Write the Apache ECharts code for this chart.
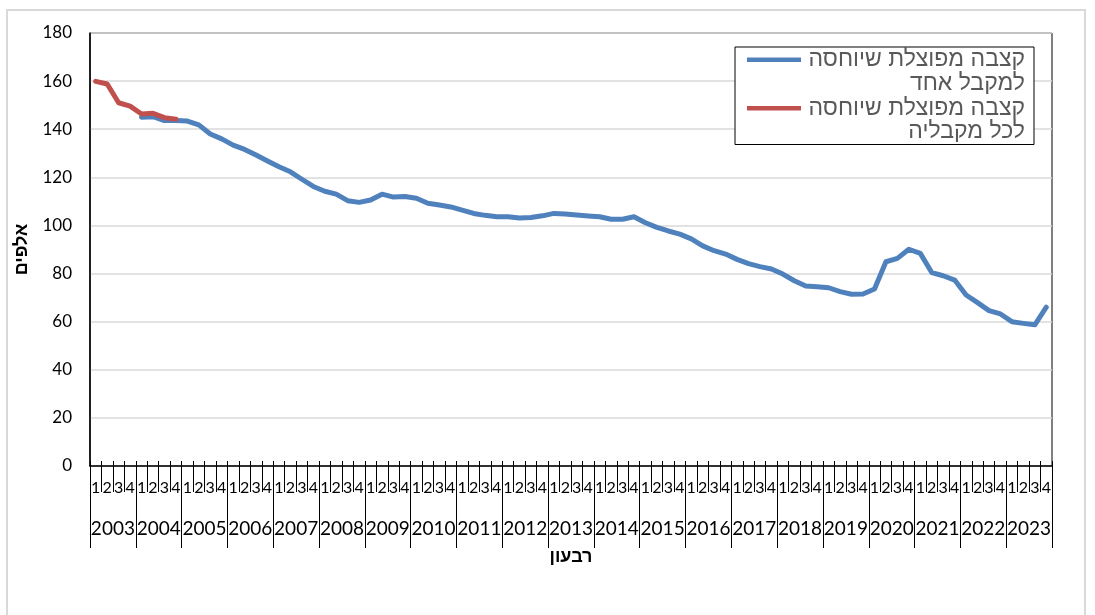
<!DOCTYPE html>
<html lang="he">
<head>
  <meta charset="utf-8">
</head>
<body style="margin: 0; background: #fff">
  <div id="container" style="width: 1095px; height: 615px"></div>
  <script src="https://cdn.jsdelivr.net/npm/echarts@6.0.0/dist/echarts.min.js"></script>
  <script>
    // data
    var years = ['2003', '2004', '2005', '2006', '2007', '2008', '2009', '2010', '2011', '2012', '2013',
      '2014', '2015', '2016', '2017', '2018', '2019', '2020', '2021', '2022', '2023'];
    var quarterLabels = ['1', '2', '3', '4'];
    var yTicks = { min: 0, max: 180, interval: 20 };

    var nameOne = 'קצבה מפוצלת שיוחסה\nלמקבל אחד';
    var nameAll = 'קצבה מפוצלת שיוחסה\nלכל מקבליה';

    var oneRecipient = [
      null, null, null, null,
      145.0, 145.2, 143.6, 143.6,
      143.4, 141.8, 138.0, 136.0,
      133.4, 131.6, 129.3, 126.8,
      124.4, 122.3, 119.2, 116.2,
      114.2, 113.0, 110.3, 109.6,
      110.6, 113.0, 111.8, 112.0,
      111.3, 109.2, 108.5, 107.7,
      106.4, 105.0, 104.2, 103.6,
      103.6, 103.1, 103.3, 104.0,
      105.0, 104.8, 104.3, 103.9,
      103.6, 102.6, 102.6, 103.6,
      101.1, 99.2, 97.7, 96.4,
      94.4, 91.5, 89.5, 88.1,
      85.9, 84.1, 82.9, 81.9,
      79.8, 77.0, 74.8, 74.5,
      74.1, 72.5, 71.4, 71.5,
      73.6, 84.9, 86.3, 90.1,
      88.4, 80.4, 79.1, 77.3,
      71.1, 67.9, 64.6, 63.2,
      60.0, 59.3, 58.7, 66.0
    ];
    var allRecipients = [159.9, 158.8, 151.0, 149.6, 146.3, 146.6, 144.8, 144.2];

    // one category per quarter
    var categories = [];
    years.forEach(function (y) {
      quarterLabels.forEach(function (q) { categories.push(y + '-' + q); });
    });

    var dom = document.getElementById('container');
    var myChart = echarts.init(dom, null, { renderer: 'canvas' });

    var latin = 'Lato, "Liberation Sans", sans-serif';
    var hebrew = '"Liberation Sans", "DejaVu Sans", sans-serif';

    // legend icon: bar near top of a box as tall as the two-line text
    var legendIcon = 'path://M0,0L0.01,0L0.01,0.01Z M0,9.5L54,9.5L54,14L0,14Z M0,47L0.01,47L0.01,47.01Z';

    var option = {
      animation: false,
      graphic: [{
        type: 'rect',
        shape: { x: 7, y: 10, width: 1078, height: 612 },
        style: { fill: 'none', stroke: '#d9d9d9', lineWidth: 2 },
        silent: true
      }],
      grid: {
        left: 90, right: 43, top: 33, bottom: 149,
        show: true, borderColor: '#000', borderWidth: 1,
        outerBoundsMode: 'none', containLabel: false
      },
      legend: {
        orient: 'vertical',
        left: 735, top: 47,
        padding: [1, 9, 1, 12],
        itemGap: 1.5,
        itemWidth: 54, itemHeight: 47,
        icon: legendIcon,
        itemStyle: { borderWidth: 0 },
        borderColor: '#000', borderWidth: 1,
        backgroundColor: '#fff',
        data: [nameOne, nameAll],
        formatter: function (name) {
          return name.split('\n').map(function (s) { return '{a|' + s + '}'; }).join('\n');
        },
        textStyle: {
          rich: {
            a: { width: 219, align: 'right', fontSize: 23, lineHeight: 23.5, color: '#595959', fontFamily: hebrew }
          }
        }
      },
      xAxis: [
        {
          type: 'category', data: categories, position: 'bottom', offset: 0,
          axisLine: { show: true, lineStyle: { color: '#000', width: 1.5 } },
          axisTick: { show: true, interval: 0, length: 26, lineStyle: { color: '#000', width: 1 } },
          axisLabel: {
            interval: 0, margin: 14, fontSize: 16, color: '#000', fontFamily: latin,
            formatter: function (v) { return v.split('-')[1]; }
          },
          splitLine: { show: false }
        },
        {
          type: 'category', data: years, position: 'bottom', offset: 0,
          axisLine: { show: false },
          axisTick: { show: true, interval: 0, length: 82, lineStyle: { color: '#000', width: 1 } },
          axisLabel: { interval: 0, margin: 53, fontSize: 19, color: '#000', fontFamily: latin },
          name: 'רבעון', nameLocation: 'middle', nameGap: 82,
          nameTextStyle: { fontSize: 18, fontWeight: 'bold', color: '#000', fontFamily: hebrew },
          splitLine: { show: false }
        },
        {
          type: 'category', data: categories, position: 'bottom', offset: 0,
          axisLine: { show: false },
          axisTick: { show: true, interval: 0, inside: true, length: 5, lineStyle: { color: '#000', width: 1 } },
          axisLabel: { show: false },
          splitLine: { show: false }
        }
      ],
      yAxis: {
        type: 'value', min: yTicks.min, max: yTicks.max, interval: yTicks.interval,
        axisLine: { show: true, lineStyle: { color: '#000', width: 1.5 } },
        axisTick: { show: false },
        axisLabel: { margin: 18, fontSize: 17, color: '#000', fontFamily: latin },
        splitLine: { lineStyle: { color: '#d9d9d9', width: 1.5 } },
        name: 'אלפים', nameLocation: 'middle', nameRotate: 90, nameGap: 56,
        nameTextStyle: { fontSize: 18, fontWeight: 'bold', color: '#000', fontFamily: hebrew }
      },
      series: [
        {
          name: nameOne, type: 'line', xAxisIndex: 0, data: oneRecipient,
          symbol: 'none', smooth: false,
          itemStyle: { color: '#4f81bd' },
          lineStyle: { color: '#4f81bd', width: 5, join: 'round', cap: 'round' }
        },
        {
          name: nameAll, type: 'line', xAxisIndex: 0, data: allRecipients,
          symbol: 'none', smooth: false,
          itemStyle: { color: '#c0504d' },
          lineStyle: { color: '#c0504d', width: 5, join: 'round', cap: 'round' }
        }
      ]
    };

    myChart.setOption(option);
    window.addEventListener('resize', myChart.resize);
  </script>
</body>
</html>
